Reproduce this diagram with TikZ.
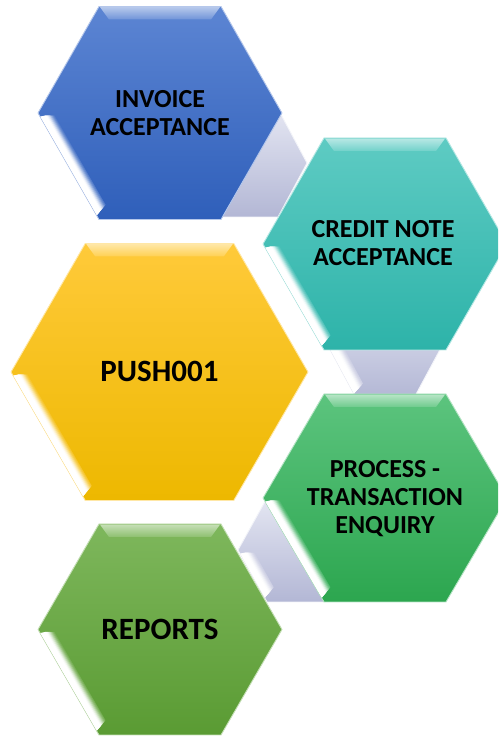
\documentclass[tikz,border=0pt]{standalone}
\usepackage{fontspec}
\setmainfont{Carlito}
\usetikzlibrary{calc}
\definecolor{blueT}{HTML}{5C85D3}
\definecolor{blueB}{HTML}{2F5FBA}
\definecolor{tealT}{HTML}{5ECBC3}
\definecolor{tealB}{HTML}{2DB3A9}
\definecolor{yelT}{HTML}{FFCA3A}
\definecolor{yelB}{HTML}{EDB800}
\definecolor{grnT}{HTML}{5CC47E}
\definecolor{grnB}{HTML}{2CA64F}
\definecolor{lgrT}{HTML}{7EB75C}
\definecolor{lgrB}{HTML}{5A9B33}
\definecolor{lavT}{HTML}{E4E6F2}
\definecolor{lavB}{HTML}{B3B7D5}
\tikzset{
  lbl/.style={align=center, text=black, inner sep=0pt},
  smallfont/.style={font=\fontsize{26}{28}\selectfont\bfseries},
  bigfont/.style={font=\fontsize{31}{33}\selectfont\bfseries}
}
% #1 name, #2 cx, #3 cy, #4 half width, #5 half height, #6 top colour, #7 bottom colour
\newcommand\hexdraw[7]{%
  \coordinate (#1) at (#2,#3);
  \colorlet{hexmid}{#6!45!#7}%
  \colorlet{hexedge}{#6!45!white}%
  \colorlet{hexbevT}{#6!45!white}%
  \colorlet{hexbevB}{#6!88!white}%
  \shadedraw[top color=#6, bottom color=#7, draw=hexedge, line width=0.9pt, line join=round]
    ($(#1)+(-#4,0)$) -- ($(#1)+(-#4/2,#5)$) -- ($(#1)+(#4/2,#5)$) -- ($(#1)+(#4,0)$)
    -- ($(#1)+(#4/2,-#5)$) -- ($(#1)+(-#4/2,-#5)$) -- cycle;
  \shade[top color=hexbevT, bottom color=hexbevB]
    ($(#1)+(-#4/2+1,#5-0.6)$) -- ($(#1)+(#4/2-1,#5-0.6)$) -- ($(#1)+(#4/2-10,#5-13)$)
    -- ($(#1)+(-#4/2+10,#5-13)$) -- cycle;
  \pgfmathsetmacro\hexang{atan2(#5,#4/2)}%
  \pgfmathsetmacro\hexlen{veclen(#4/2,#5)}%
  \begin{scope}[shift={($(#1)+(-#4,0)$)}, rotate=-\hexang]
    \foreach \hw/\hp in {13/10,12/22,11/38,10/55,9/72,8/86,7/96,6/100}{
      \fill[white!\hp!hexmid] (2.5+\hw*0.3,0.4) -- (\hexlen-5,0.4) -- (\hexlen-5-\hw*0.35,\hw) -- (2.5+\hw*0.6,\hw) -- cycle;
    }
  \end{scope}
}
\begin{document}
\begin{tikzpicture}[x=1pt,y=1pt]
\useasboundingbox (0,0) rectangle (498,738);
\clip (0,0) rectangle (498,738);
% connectors (behind)
\hexdraw{c1}{249}{575}{58}{54}{lavT}{lavB}
\hexdraw{c2}{385}{394}{58}{54}{lavT}{lavB}
\hexdraw{c3}{296}{188}{58}{52}{lavT}{lavB}
% hexagons
\hexdraw{h1}{160}{625}{122}{106.5}{blueT}{blueB}
\hexdraw{h2}{385}{494}{122}{106}{tealT}{tealB}
\hexdraw{h3}{159.5}{366}{148.5}{128.5}{yelT}{yelB}
\hexdraw{h4}{385}{240}{122}{104}{grnT}{grnB}
\hexdraw{h5}{160}{108.5}{122}{105.5}{lgrT}{lgrB}
% labels
\node[lbl, smallfont] (t1) at (160,625) {INVOICE\\ACCEPTANCE};
\node[lbl, smallfont] (t2) at (383,494.5) {CREDIT NOTE\\ACCEPTANCE};
\node[lbl, bigfont] (t3) at (159.5,366.3) {PUSH001};
\node[lbl, smallfont] (t4) at (385,239) {PROCESS -\\TRANSACTION\\ENQUIRY};
\node[lbl, bigfont] (t5) at (160,108.3) {REPORTS};
\end{tikzpicture}
\end{document}
